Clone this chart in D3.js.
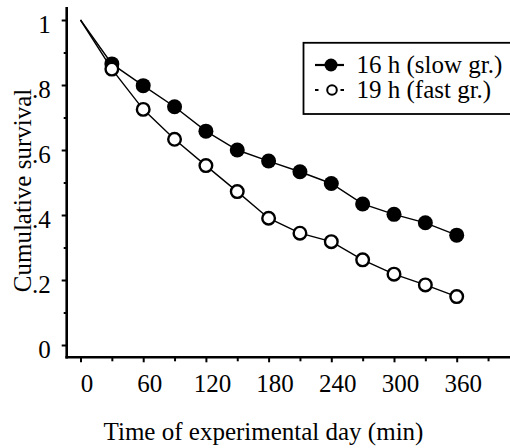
<!DOCTYPE html>
<html>
<head>
<meta charset="utf-8">
<script src="https://cdn.jsdelivr.net/npm/d3@7"></script>
<style>
  html, body { margin: 0; padding: 0; background: #fff; }
  svg { display: block; }
  svg text { font-family: "Liberation Serif", "Times New Roman", serif; fill: #000; }
</style>
</head>
<body>
<svg id="chart" width="510" height="448"></svg>
<script>
// data
const times = [0, 30, 60, 90, 120, 150, 180, 210, 240, 270, 300, 330, 360];
const slowGrowth = [1, 0.865, 0.798, 0.733, 0.658, 0.600, 0.566, 0.533, 0.497, 0.434, 0.402, 0.376, 0.338];
const fastGrowth = [1, 0.849, 0.725, 0.633, 0.552, 0.472, 0.390, 0.344, 0.318, 0.262, 0.218, 0.185, 0.149];
const seriesNames = ["16 h (slow gr.)", "19 h (fast gr.)"];
const xMajorTicks = [0, 60, 120, 180, 240, 300, 360];
const xMinorTicks = [30, 90, 150, 210, 270, 330, 390];
const yMajorTicks = [0, 0.2, 0.4, 0.6, 0.8, 1];
const yMinorTicks = [0.1, 0.3, 0.5, 0.7, 0.9];

const serif = "'Liberation Serif', 'Times New Roman', serif";
const svg = d3.select("#chart");

const x = d3.scaleLinear().domain([0, 360]).range([80.5, 456.7]);
const y = d3.scaleLinear().domain([0, 1]).range([345, 20]);

const axisX = 66.7, axisY = 357.3;
const fontSize = 25;

// axis lines
svg.append("line")
    .attr("x1", axisX).attr("x2", axisX)
    .attr("y1", 7).attr("y2", axisY + 1.3)
    .attr("stroke", "#000").attr("stroke-width", 2.6);
svg.append("line")
    .attr("x1", axisX - 1.3).attr("x2", 512)
    .attr("y1", axisY).attr("y2", axisY)
    .attr("stroke", "#000").attr("stroke-width", 2.6);

// y ticks
const yAxis = svg.append("g")
    .attr("transform", `translate(${axisX},0)`)
    .call(d3.axisLeft(y).tickValues(yMajorTicks).tickSize(5).tickPadding(11)
        .tickFormat(d => d === 0 ? "0" : d === 1 ? "1" : d3.format(".1f")(d).replace(/^0/, "")));
svg.append("g")
    .attr("transform", `translate(${axisX},0)`)
    .call(d3.axisLeft(y).tickValues(yMinorTicks).tickSize(3).tickFormat(""));

// x ticks
const xScaleExt = d3.scaleLinear().domain([0, 390]).range([x(0), x(390)]);
const xAxis = svg.append("g")
    .attr("transform", `translate(0,${axisY})`)
    .call(d3.axisBottom(x).tickValues(xMajorTicks).tickSize(5).tickPadding(14).tickFormat(d3.format("d")));
svg.append("g")
    .attr("transform", `translate(0,${axisY})`)
    .call(d3.axisBottom(xScaleExt).tickValues(xMinorTicks).tickSize(4).tickFormat(""));

svg.selectAll(".domain").remove();
svg.selectAll("g").attr("font-family", serif).attr("font-size", fontSize);
svg.selectAll(".tick line").attr("stroke", "#000").attr("stroke-width", 2);
svg.selectAll(".tick text")
    .attr("fill", "#000")
    .attr("font-family", serif)
    .style("font-size", fontSize + "px");
yAxis.selectAll(".tick text").attr("dy", "0.5em");
xAxis.selectAll(".tick text").attr("dx", 6).attr("dy", "0.62em");

// axis titles
svg.append("text")
    .attr("x", 263.5).attr("y", 440)
    .attr("text-anchor", "middle")
    .attr("font-family", serif)
    .style("font-size", fontSize + "px")
    .text("Time of experimental day (min)");
svg.append("text")
    .attr("transform", "translate(31,190.5) rotate(-90)")
    .attr("text-anchor", "middle")
    .attr("font-family", serif)
    .style("font-size", fontSize + "px")
    .text("Cumulative survival");

// lines
const line = d3.line()
    .x((d, i) => x(times[i]))
    .y(d => y(d));

[slowGrowth, fastGrowth].forEach(vals => {
    svg.append("path")
        .datum(vals)
        .attr("d", line)
        .attr("fill", "none")
        .attr("stroke", "#000")
        .attr("stroke-width", 1.4);
});

// markers (first point at t=0 has none)
svg.selectAll(".slow")
    .data(slowGrowth.slice(1))
    .enter()
    .append("circle")
    .attr("class", "slow")
    .attr("cx", (d, i) => x(times[i + 1]))
    .attr("cy", d => y(d))
    .attr("r", 7.5)
    .attr("fill", "#000");

svg.selectAll(".fast")
    .data(fastGrowth.slice(1))
    .enter()
    .append("circle")
    .attr("class", "fast")
    .attr("cx", (d, i) => x(times[i + 1]))
    .attr("cy", d => y(d))
    .attr("r", 6.3)
    .attr("fill", "#fff")
    .attr("stroke", "#000")
    .attr("stroke-width", 2.4);

// legend
const legend = svg.append("g");
legend.append("rect")
    .attr("x", 303.5).attr("y", 42.8)
    .attr("width", 215).attr("height", 71.2)
    .attr("fill", "#fff")
    .attr("stroke", "#000")
    .attr("stroke-width", 1.8);

// row 1: solid line with filled dot
legend.append("line")
    .attr("x1", 315).attr("x2", 344)
    .attr("y1", 65).attr("y2", 65)
    .attr("stroke", "#000").attr("stroke-width", 2.2);
legend.append("circle")
    .attr("cx", 331).attr("cy", 65).attr("r", 6.5)
    .attr("fill", "#000");

// row 2: dashed line with open dot
legend.append("line")
    .attr("x1", 315).attr("x2", 344)
    .attr("y1", 90).attr("y2", 90)
    .attr("stroke", "#000").attr("stroke-width", 2.2)
    .attr("stroke-dasharray", "3.5,22,3.5");
legend.append("circle")
    .attr("cx", 332).attr("cy", 90).attr("r", 4.8)
    .attr("fill", "#fff")
    .attr("stroke", "#000").attr("stroke-width", 2);

legend.selectAll(".legend-label")
    .data(seriesNames)
    .enter()
    .append("text")
    .attr("class", "legend-label")
    .attr("x", 356.5)
    .attr("y", (d, i) => 73 + i * 25)
    .attr("font-family", serif)
    .style("font-size", fontSize + "px")
    .text(d => d);
</script>
</body>
</html>
